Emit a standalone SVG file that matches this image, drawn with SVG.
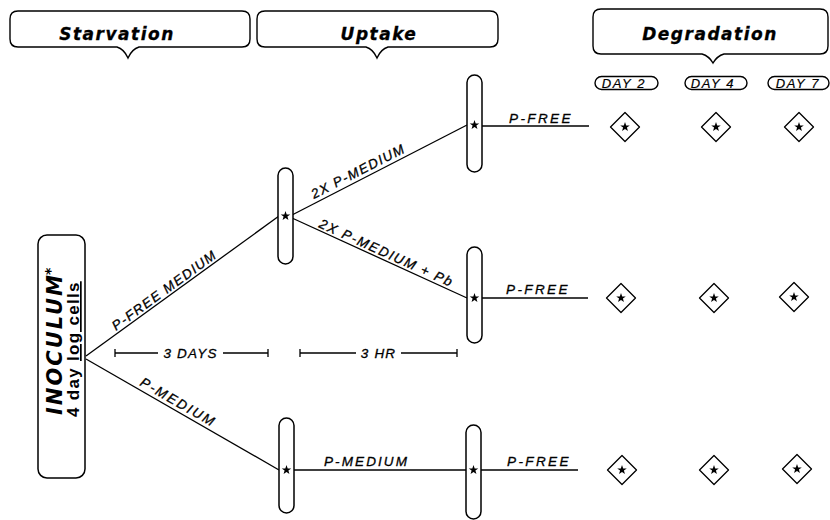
<svg xmlns="http://www.w3.org/2000/svg" width="830" height="520" viewBox="0 0 830 520">
<style>
  .box{fill:#fff;stroke:#000;stroke-width:1.4}
  .cap{fill:#fff;stroke:#000;stroke-width:1.5}
  .ln{stroke:#000;stroke-width:1.3;fill:none}
  .hd{font-family:"DejaVu Sans",sans-serif;font-weight:bold;font-style:italic;font-size:17px;letter-spacing:1.5px;fill:#000;stroke:#000;stroke-width:0.3}
  .lb{font-family:"Liberation Sans",Arial,sans-serif;font-style:italic;font-size:13.5px;fill:#000;stroke:#000;stroke-width:0.3}
  .day{font-family:"Liberation Sans",Arial,sans-serif;font-style:italic;font-size:13px;letter-spacing:1.6px;fill:#000;stroke:#000;stroke-width:0.2}
  .dia{fill:#fff;stroke:#000;stroke-width:1.3;stroke-linejoin:round}
</style>
<defs>
  <path id="star" d="M0,-5 L1.18,-1.62 L4.76,-1.55 L1.9,0.62 L2.94,4.05 L0,2 L-2.94,4.05 L-1.9,0.62 L-4.76,-1.55 L-1.18,-1.62 Z" fill="#000"/>
  <g id="dmd">
    <path class="dia" d="M0,-14.5 L14.5,0 L0,14.5 L-14.5,0 Z"/>
    <use href="#star"/>
  </g>
</defs>
<rect width="830" height="520" fill="#fff"/>

<g id="header-starvation">
  <path class="box" d="M18,11 H242 Q250,11 250,19 V39 Q250,47 242,47 H139 Q132,49 128,58 Q124,49 117,47 H18 Q10,47 10,39 V19 Q10,11 18,11 Z"/>
  <text class="hd" x="117" y="40" text-anchor="middle">Starvation</text>
</g>
<g id="header-uptake">
  <path class="box" d="M265,11 H490 Q498,11 498,19 V39 Q498,47 490,47 H388 Q381,49 377,58 Q373,49 366,47 H265 Q257,47 257,39 V19 Q257,11 265,11 Z"/>
  <text class="hd" x="379" y="40" text-anchor="middle">Uptake</text>
</g>
<g id="header-degradation">
  <path class="box" d="M601,9 H820 Q828,9 828,17 V46 Q828,54 820,54 H724 Q717,56 713,63 Q709,56 702,54 H601 Q593,54 593,46 V17 Q593,9 601,9 Z"/>
  <text class="hd" x="710" y="40" text-anchor="middle">Degradation</text>
</g>

<g id="day2"><rect class="box" x="595" y="76.5" width="63" height="13" rx="6.5"/><text class="day" x="624" y="88" text-anchor="middle">DAY 2</text></g>
<g id="day4"><rect class="box" x="685" y="76.5" width="62" height="13" rx="6.5"/><text class="day" x="713" y="88" text-anchor="middle">DAY 4</text></g>
<g id="day7"><rect class="box" x="768" y="76.5" width="61" height="13" rx="6.5"/><text class="day" x="798" y="88" text-anchor="middle">DAY 7</text></g>

<g id="inoculum">
  <rect class="cap" x="38" y="235" width="47" height="243" rx="9"/>
  <text transform="translate(62,415) rotate(-90)" font-family="'DejaVu Sans',sans-serif" font-weight="bold" font-style="italic" font-size="21" letter-spacing="2">INOCULUM<tspan font-size="14" dx="-2" dy="-7">*</tspan></text>
  <text transform="translate(79,417) rotate(-90)" font-family="'Liberation Sans',Arial,sans-serif" font-weight="bold" font-size="17" letter-spacing="1.3"><tspan x="0">4 day</tspan><tspan x="56" text-decoration="underline">log cells</tspan></text>
</g>

<g id="connectors">
  <line class="ln" x1="86" y1="356" x2="279" y2="216"/>
  <line class="ln" x1="86" y1="359" x2="279" y2="470"/>
  <line class="ln" x1="292" y1="215" x2="467" y2="125"/>
  <line class="ln" x1="292" y1="218" x2="467" y2="298"/>
  <line class="ln" x1="482" y1="126" x2="589" y2="126"/>
  <line class="ln" x1="482" y1="298" x2="588" y2="298"/>
  <line class="ln" x1="294" y1="470" x2="466" y2="470"/>
  <line class="ln" x1="481" y1="470" x2="578" y2="470"/>
  <text class="lb" font-size="14" letter-spacing="1.4" transform="translate(116,331) rotate(-36)">P-FREE MEDIUM</text>
  <text class="lb" letter-spacing="2.1" transform="translate(139,385) rotate(29.9)">P-MEDIUM</text>
  <text class="lb" letter-spacing="1.4" transform="translate(314,199) rotate(-27.1)">2X P-MEDIUM</text>
  <text class="lb" letter-spacing="1.6" transform="translate(318,227) rotate(24.4)">2X P-MEDIUM + Pb</text>
  <text class="lb" x="509" y="123" letter-spacing="2.4">P-FREE</text>
  <text class="lb" x="506" y="294" letter-spacing="2.4">P-FREE</text>
  <text class="lb" x="324" y="466" letter-spacing="2.1">P-MEDIUM</text>
  <text class="lb" x="507" y="466" letter-spacing="2.4">P-FREE</text>
</g>

<g id="capsule-uptake-top"><rect class="cap" x="278" y="168" width="15" height="96" rx="7.5"/><use href="#star" x="285.5" y="216"/></g>
<g id="capsule-uptake-bottom"><rect class="cap" x="279" y="418" width="15" height="95" rx="7.5"/><use href="#star" x="286.5" y="470"/></g>
<g id="capsule-degr-top"><rect class="cap" x="467" y="75" width="15" height="97" rx="7.5"/><use href="#star" x="474.5" y="125"/></g>
<g id="capsule-degr-mid"><rect class="cap" x="467" y="247" width="15" height="96" rx="7.5"/><use href="#star" x="474.5" y="298"/></g>
<g id="capsule-degr-bot"><rect class="cap" x="466" y="425" width="15" height="94" rx="7.5"/><use href="#star" x="473.5" y="470"/></g>

<g id="diamonds">
  <use href="#dmd" x="625" y="127"/>
  <use href="#dmd" x="716" y="127"/>
  <use href="#dmd" x="799" y="127"/>
  <use href="#dmd" x="621" y="298"/>
  <use href="#dmd" x="714" y="298"/>
  <use href="#dmd" x="794" y="297"/>
  <use href="#dmd" x="622" y="470"/>
  <use href="#dmd" x="714" y="470"/>
  <use href="#dmd" x="797" y="469"/>
</g>

<g id="timebar-3days">
  <path class="ln" d="M115,349 V357 M115,353 H158 M223,353 H268 M268,349 V357"/>
  <text class="lb" x="190.5" y="358" text-anchor="middle" letter-spacing="1.2">3 DAYS</text>
</g>
<g id="timebar-3hr">
  <path class="ln" d="M300,349 V357 M300,353 H356 M401,353 H457 M457,349 V357"/>
  <text class="lb" x="378.5" y="358" text-anchor="middle" letter-spacing="1.2">3 HR</text>
</g>
</svg>
